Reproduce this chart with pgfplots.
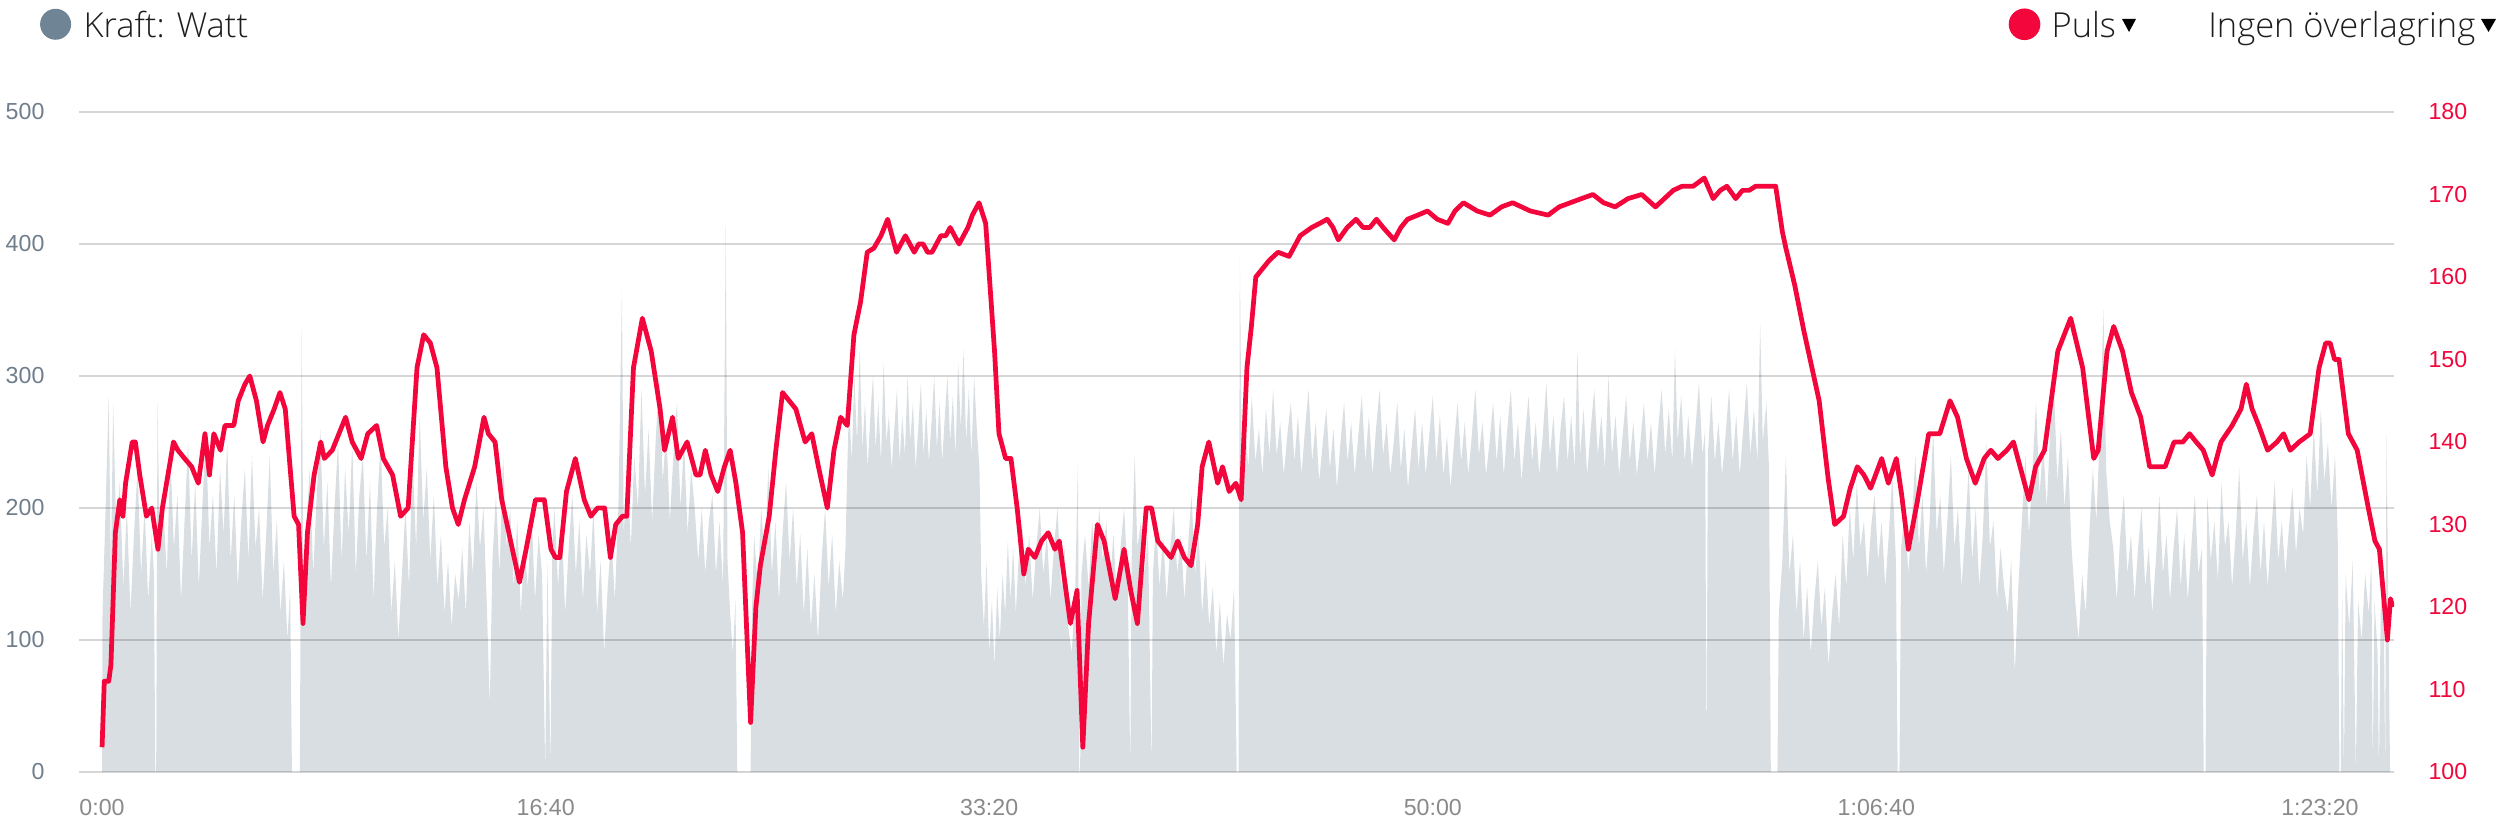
\documentclass[border=0pt]{standalone}
\usepackage{pgfplots}
\pgfplotsset{compat=1.18}
\usepackage{fontspec}
\setmainfont{Liberation Sans}
\newfontfamily\headfont{Open Sans Light}

\definecolor{powerfill}{RGB}{217,222,226}
\definecolor{pulsred}{RGB}{243,6,60}
\definecolor{kraftdot}{RGB}{111,133,150}
\definecolor{ticklab}{RGB}{138,138,138}
\definecolor{leftlab}{RGB}{112,126,140}
\definecolor{headtext}{RGB}{30,30,30}

\begin{document}
\begin{tikzpicture}
\path[use as bounding box] (0,0) rectangle (25,8.24);

% header / legend
\fill[kraftdot] (0.556,7.997) circle (0.155);
\node[anchor=base west, inner sep=0, text=headtext, font=\headfont\fontsize{9.8}{11}\selectfont] at (0.83,7.86) {Kraft: Watt};
\fill[pulsred] (20.245,7.997) circle (0.158);
\node[anchor=base west, inner sep=0, text=headtext, font=\headfont\fontsize{9.8}{11}\selectfont] at (20.51,7.86) {Puls};
\fill[black] (21.22,8.05) -- (21.36,8.05) -- (21.29,7.92) -- cycle;
\node[anchor=base east, inner sep=0, text=headtext, font=\headfont\fontsize{9.8}{11}\selectfont] at (24.76,7.86) {Ingen överlagring};
\fill[black] (24.81,8.05) -- (24.96,8.05) -- (24.885,7.92) -- cycle;

% power (left axis)
\begin{axis}[
    at={(0.79cm,0.52cm)}, anchor=south west,
    scale only axis, width=23.15cm, height=6.6cm,
    xmin=-52, xmax=5167,
    ymin=0, ymax=500,
    ytick={0,100,...,500},
    xtick={0,1000,...,5000},
    xticklabels={0:00,16:40,33:20,50:00,1:06:40,1:23:20},
    major tick length=0pt,
    axis line style={draw=none},
    ymajorgrids,
    grid style={black, opacity=0.16, line width=0.55pt},
    axis on top,
    /pgf/number format/assume math mode=true,
    ticklabel style={font=\fontsize{6.6}{7}\selectfont},
    xticklabel style={text=ticklab, yshift=-4.2pt},
    yticklabel style={text=leftlab, xshift=-6.3pt},
]
\addplot[fill=powerfill, draw=none] coordinates {
(0,0)(1,120)(8,200)(15,285)(20,150)(25,280)(32,180)(40,220)(48,140)(56,200)(64,120)(72,180)(80,230)(88,150)(96,200)(104,130)(112,180)(117,150)(120,0)(122,0)(125,280)(130,170)
(138,200)(146,150)(154,240)(162,170)(170,210)(178,130)(186,190)(194,250)(202,160)(210,220)(218,140)(226,200)(234,260)(242,170)(250,210)(258,150)(266,230)(274,180)(282,250)(290,160)(298,210)(306,140)(314,190)(322,230)(330,160)(338,240)(346,170)(354,200)(362,130)(370,180)(378,240)(386,150)(394,190)(402,120)(410,160)(418,100)(424,140)(428,0)(446,0)(450,340)(454,150)
(460,180)(468,230)(476,150)(484,210)(492,260)(500,170)(508,220)(516,140)(524,200)(532,250)(540,160)(548,230)(556,180)(564,250)(572,150)(580,210)(588,240)(596,160)(604,220)(612,130)(620,200)(628,250)(636,170)(644,200)(652,120)(660,160)(668,100)(676,150)(684,200)(692,140)(700,240)
(708,170)(716,270)(724,190)(732,230)(740,160)(748,210)(756,140)(764,180)(772,120)(780,160)(788,110)(796,150)(804,130)(812,170)(820,120)(828,190)(836,150)(844,220)(852,170)(860,200)(868,120)(874,50)(880,160)(888,210)(896,150)(904,240)(912,170)(920,200)(928,140)(936,190)(944,120)(952,170)(960,140)(968,200)(976,130)(984,180)(992,150)(999,0)(1004,160)(1011,0)(1015,170)
(1020,200)(1028,140)(1036,190)(1044,120)(1052,170)(1060,210)(1068,150)(1076,190)(1084,130)(1092,180)(1100,150)(1108,200)(1116,120)(1124,160)(1132,90)(1140,140)(1148,180)(1156,130)(1164,200)(1172,365)(1176,180)(1184,230)
(1192,170)(1200,240)(1208,200)(1216,290)(1224,210)(1232,260)(1240,190)(1248,250)(1256,300)(1264,220)(1272,260)(1280,190)(1288,240)(1296,280)(1304,200)(1312,250)(1320,180)(1328,230)(1336,200)(1344,160)(1352,200)(1360,150)(1368,190)(1376,210)(1384,150)(1392,190)(1400,140)(1406,415)(1410,160)(1416,120)(1422,90)(1428,130)(1432,0)(1462,0)(1465,120)
(1470,180)(1478,140)(1486,200)(1494,160)(1502,230)(1510,150)(1518,190)(1526,130)(1534,180)(1542,220)(1550,160)(1558,200)(1566,140)(1574,180)(1582,120)(1590,170)(1598,110)(1606,150)(1614,100)(1622,160)(1630,200)(1638,140)(1646,180)(1654,120)(1662,160)(1670,130)(1676,170)(1680,230)
(1684,280)(1690,235)(1696,300)(1702,250)(1708,320)(1714,245)(1720,280)(1726,230)(1732,270)(1738,300)(1744,245)(1750,280)(1756,235)(1762,310)(1768,250)(1774,270)(1780,230)(1786,260)(1792,290)(1798,235)(1804,270)(1810,240)(1816,300)(1822,250)(1828,280)(1834,230)(1840,260)(1846,295)(1852,240)(1858,275)(1864,235)(1870,265)(1876,300)(1882,245)(1888,280)(1894,235)(1900,270)(1906,300)(1912,250)(1918,285)(1924,240)(1930,310)(1936,260)(1942,320)(1948,250)(1954,290)(1960,240)(1966,300)(1972,260)(1978,230)(1982,150)
(1988,110)(1994,160)(2000,90)(2006,130)(2012,80)(2018,140)(2024,100)(2030,150)(2036,120)(2042,175)(2048,130)(2054,170)(2060,120)(2066,160)
(2074,190)(2082,140)(2090,180)(2098,130)(2106,170)(2114,200)(2122,150)(2130,180)(2138,130)(2146,170)(2154,200)(2162,140)(2170,170)(2178,110)(2186,90)(2194,140)(2200,235)(2203,0)(2205,0)(2208,150)
(2216,180)(2224,140)(2232,190)(2240,150)(2248,200)(2256,160)(2264,190)(2272,140)(2280,180)(2288,130)(2296,170)(2304,200)(2312,150)(2318,0)(2321,160)(2328,240)(2334,170)(2342,190)(2350,150)(2358,180)(2366,0)(2369,150)
(2376,190)(2384,140)(2392,180)(2400,130)(2408,170)(2416,200)(2424,150)(2432,180)(2440,130)(2448,170)(2456,210)(2464,150)(2472,180)(2480,120)(2488,160)(2496,110)(2504,140)(2512,90)(2520,130)(2528,80)(2536,120)(2544,100)(2552,140)(2558,0)(2562,0)(2565,390)(2569,250)
(2576,270)(2584,230)(2592,285)(2600,235)(2608,260)(2616,225)(2624,275)(2632,240)(2640,290)(2648,240)(2656,265)(2664,225)(2672,255)(2680,280)(2688,235)(2696,270)(2704,225)(2712,260)(2720,290)(2728,235)(2736,265)(2744,220)(2752,250)(2760,275)(2768,230)(2776,260)(2784,215)(2792,250)(2800,280)(2808,235)(2816,265)(2824,225)(2832,255)(2840,285)(2848,235)(2856,270)(2864,225)(2872,260)(2880,290)(2888,240)(2896,265)(2904,225)(2912,250)(2920,280)(2928,230)(2936,260)(2944,215)(2952,245)(2960,275)(2968,230)(2976,265)(2984,225)(2992,255)(3000,285)(3008,235)(3016,270)(3024,225)(3032,255)(3040,215)(3048,250)(3056,280)(3064,235)(3072,265)(3080,225)(3088,255)(3096,290)(3104,240)(3112,265)(3120,225)(3128,250)(3136,280)(3144,235)(3152,270)(3160,225)(3168,260)(3176,290)(3184,235)(3192,265)(3200,220)(3208,255)(3216,285)(3224,235)(3232,265)(3240,225)(3248,255)(3256,295)(3264,240)(3272,270)(3280,225)(3288,260)(3296,285)(3304,235)(3312,270)(3320,230)(3326,320)(3332,240)(3340,275)(3348,225)(3356,260)(3364,290)(3372,240)(3380,270)(3388,230)(3396,300)(3404,240)(3412,270)(3420,225)(3428,255)(3436,285)(3444,235)(3452,265)(3460,225)(3468,250)(3476,280)(3484,235)(3492,265)(3500,225)(3508,260)(3516,290)(3524,240)(3532,275)(3540,235)(3546,320)(3552,250)(3560,285)(3568,235)(3576,270)(3584,230)(3592,260)(3600,295)(3608,240)(3614,260)(3617,0)(3620,240)(3628,285)(3636,235)(3644,265)(3652,225)(3660,255)(3668,290)(3676,235)(3684,270)(3692,225)(3700,260)(3708,295)(3716,240)(3724,275)(3732,235)(3738,340)(3744,250)(3752,280)(3758,230)(3762,0)(3777,0)
(3780,120)(3788,160)(3796,240)(3804,150)(3812,180)(3820,120)(3828,160)(3836,100)(3844,140)(3852,90)(3860,130)(3868,160)(3876,110)(3884,140)(3892,80)(3900,120)(3908,150)(3916,110)
(3924,180)(3932,140)(3940,200)(3948,160)(3956,220)(3964,170)(3972,190)(3980,145)(3988,185)(3996,210)(4004,160)(4012,190)(4020,140)(4028,180)(4036,225)(4044,160)(4048,0)(4052,0)(4056,170)
(4064,200)(4072,150)(4080,190)(4088,240)(4096,170)(4104,210)(4112,150)(4120,190)(4128,260)(4136,180)(4144,210)(4152,150)(4160,190)(4168,240)(4176,170)(4184,200)(4192,140)(4200,180)(4208,230)(4216,160)(4224,200)(4232,140)(4240,180)(4248,250)(4256,170)(4264,190)(4272,130)(4280,170)(4288,140)(4296,120)(4304,160)(4312,75)(4320,140)
(4328,190)(4336,240)(4344,180)(4352,230)(4360,280)(4368,210)(4376,250)(4384,200)(4392,260)(4400,295)(4408,220)(4416,260)(4424,200)(4432,240)(4440,170)(4448,130)(4456,100)(4464,150)(4472,120)(4480,180)(4488,230)(4496,190)(4504,260)(4512,350)(4518,230)(4526,190)
(4534,170)(4542,130)(4550,180)(4558,210)(4566,150)(4574,180)(4582,130)(4590,170)(4598,200)(4606,140)(4614,170)(4622,120)(4630,160)(4638,210)(4646,150)(4654,180)(4662,130)(4670,170)(4678,200)(4686,140)(4694,180)(4702,130)(4710,170)(4718,210)(4726,150)(4734,170)(4738,0)(4742,0)(4746,210)
(4754,160)(4762,190)(4770,145)(4778,220)(4786,170)(4794,190)(4802,140)(4810,180)(4818,230)(4826,160)(4834,190)(4842,140)(4850,180)(4858,210)(4866,150)(4874,190)(4882,140)(4890,180)(4898,220)(4906,160)(4914,190)(4922,150)(4930,185)(4938,215)(4946,165)(4954,200)(4962,180)
(4970,240)(4978,200)(4986,260)(4994,210)(5002,275)(5010,220)(5018,250)(5026,200)(5034,240)(5040,180)(5044,0)(5047,0)
(5050,140)(5054,0)(5058,150)(5066,110)(5074,160)(5081,0)(5086,130)(5094,100)(5102,150)(5110,120)(5116,160)(5119,0)(5123,130)(5130,90)(5133,0)(5137,120)(5143,160)(5147,0)(5150,255)(5154,130)(5158,0)(5160,0)
} \closedcycle;
\end{axis}

% heart rate (right axis)
\begin{axis}[
    at={(0.79cm,0.52cm)}, anchor=south west,
    scale only axis, width=23.15cm, height=6.6cm,
    xmin=-52, xmax=5167,
    ymin=100, ymax=180,
    ytick={100,110,...,180},
    axis y line*=right,
    axis x line=none,
    major tick length=0pt,
    axis line style={draw=none},
    /pgf/number format/assume math mode=true,
    ticklabel style={font=\fontsize{6.6}{7}\selectfont},
    yticklabel style={text=pulsred, xshift=6.3pt},
]
\addplot[pulsred, line width=1.35pt, line join=round] coordinates {
(0,103)(5,111)(15,111)(20,113)(30,129)(40,133)(47,131)(53,135)(68,140)(75,140)(85,136)(100,131)(112,132)(126,127)(136,132)(161,140)(171,139)(186,138)(202,137)(217,135)(232,141)(242,136)(252,141)(267,139)(277,142)(297,142)(307,145)(322,147)(333,148)(348,145)(363,140)(373,142)(388,144)(401,146)(413,144)(433,131)(443,130)(453,118)(463,129)(478,136)(493,140)(501,138)(519,139)(534,141)(549,143)(564,140)(584,138)(599,141)(619,142)(634,138)(655,136)(673,131)(690,132)(710,149)(725,153)(740,152)(755,149)(775,137)(790,132)(803,130)(817,133)(840,137)(861,143)(871,141)(886,140)(901,133)(921,128)(941,123)(956,127)(977,133)(997,133)(1012,127)(1022,126)(1032,126)(1047,134)(1067,138)(1087,133)(1102,131)(1117,132)(1133,132)(1146,126)(1158,130)(1173,131)(1183,131)(1198,149)(1218,155)(1238,151)(1258,144)(1268,139)(1286,143)(1299,138)(1319,140)(1339,136)
(1348,136)(1360,139)(1373,136)(1388,134)(1403,137)(1416,139)(1429,135)(1444,129)(1462,106)(1474,120)(1484,125)(1504,131)(1519,139)(1534,146)(1549,145)(1564,144)(1585,140)(1600,141)(1615,137)(1635,132)(1650,139)(1665,143)(1680,142)(1695,153)(1710,157)(1725,163)(1740,163.5)(1756,165)(1771,167)(1781,165)(1791,163)(1801,164)(1811,165)(1821,164)(1831,163)(1841,164)(1851,164)(1861,163)(1871,163)(1881,164)(1891,165)(1902,165)(1912,166)(1922,165)(1932,164)(1942,165)(1952,166)(1962,167.5)(1977,169)(1992,166.5)(2012,151)(2022,141)(2037,138)(2049,138)(2063,132)(2078,124)(2088,127)(2103,126)(2118,128)(2133,129)(2148,127)(2158,128)(2183,118)(2198,122)(2211,103)(2224,118)(2244,130)(2259,128)(2284,121)(2304,127)(2319,122)(2334,118)(2354,132)(2366,132)(2380,128)(2395,127)(2410,126)(2425,128)(2440,126)(2455,125)(2470,130)(2480,137)(2495,140)(2515,135)(2526,137)(2541,134)(2556,135)(2568,133)(2581,149)(2591,154)(2601,160)(2616,161)(2631,162)(2651,163)(2676,162.5)(2701,165)(2727,166)(2745,166.5)(2762,167)(2775,166)(2787,164.5)(2807,166)(2827,167)(2843,166)(2858,166)(2873,167)(2888,166)(2913,164.5)
(2928,166)(2943,167)(2966,167.5)(2988,168)(3010,167)(3034,166.5)(3050,168)(3069,169)(3100,168)(3129,167.5)(3155,168.5)(3180,169)(3220,168)(3260,167.5)(3285,168.5)(3310,169)(3335,169.5)(3361,170)(3385,169)(3411,168.5)(3440,169.5)(3471,170)(3502,168.5)(3522,169.5)(3542,170.5)(3562,171)(3587,171)(3612,172)(3632,169.5)(3648,170.5)(3663,171)(3683,169.5)(3698,170.5)(3713,170.5)(3728,171)(3743,171)(3758,171)(3773,171)(3788,165.5)
(3796,163.5)(3816,159)(3836,153.6)(3871,145)(3891,135.7)(3906,130)(3926,131)(3941,134.4)(3957,137)(3972,136)(3987,134.4)(4012,138)(4027,135)(4045,138)(4057,133.6)(4072,127)(4092,132.7)(4118,141)(4143,141)(4166,145)(4183,143)(4203,138)(4223,135)(4243,138)(4258,139)(4274,138)(4294,139)(4309,140)(4324,137)(4344,133)(4359,137)(4379,139)(4409,151)(4438,155)(4465,149)(4490,138)(4500,139)(4520,151)(4535,154)(4555,151)(4575,146)(4596,143)(4616,137)(4651,137)(4671,140)(4691,140)(4706,141)(4721,140)(4737,139)(4757,136)(4777,140)(4802,142)(4822,144)(4834,147)(4847,144)(4862,142)(4882,139)(4903,140)(4918,141)(4933,139)(4953,140)(4978,141)(4998,149)(5013,152)(5023,152)(5033,150)(5043,150)(5064,141)(5084,139)(5109,132)(5124,128)(5134,127)(5144,121)(5152,116)(5159,121)(5164,120)
};
\end{axis}
\end{tikzpicture}
\end{document}
